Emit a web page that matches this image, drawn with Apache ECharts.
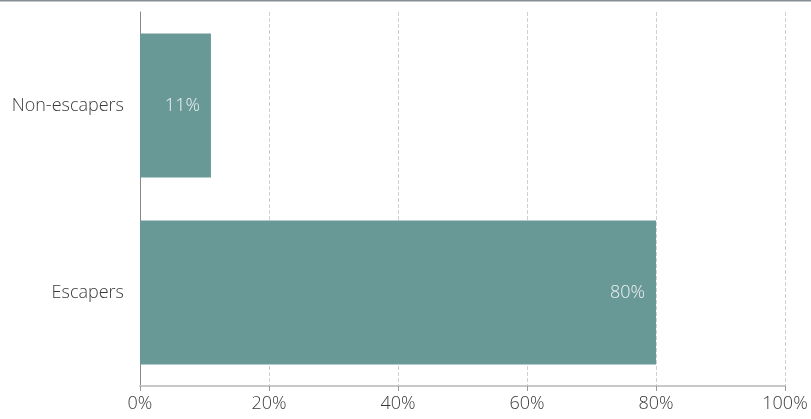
<!DOCTYPE html>
<html><head><meta charset="utf-8">
<script src="https://cdn.jsdelivr.net/npm/echarts@6/dist/echarts.min.js"></script>
<style>html,body{margin:0;padding:0;background:#fff}#c{width:811px;height:419px}</style>
</head><body><div id="c"></div>
<script>
var categories = ['Escapers', 'Non-escapers'];
var values = [80, 11];
var xTicks = [0, 20, 40, 60, 80, 100];

var chart = echarts.init(document.getElementById('c'));
chart.setOption({
  animation: false,
  textStyle: {fontFamily: 'Open Sans', fontWeight: 300},
  graphic: [{type: 'line', shape: {x1: 0, y1: 0.5, x2: 811, y2: 0.5}, style: {stroke: '#8a8f94', lineWidth: 2}}],
  grid: {left: 140, right: 26, top: 12, bottom: 33},
  xAxis: {
    type: 'value', min: xTicks[0], max: xTicks[xTicks.length - 1], interval: 20,
    axisLabel: {formatter: '{value}%', color: '#3a3a3a', fontSize: 18, fontWeight: 300, margin: 9},
    axisLine: {show: true, lineStyle: {color: '#c8c8c8', width: 2}},
    axisTick: {show: true, length: 5, lineStyle: {color: '#999'}},
    splitLine: {show: true, lineStyle: {type: 'dashed', color: '#d0d0d0'}}
  },
  yAxis: {
    type: 'category', data: categories,
    axisLabel: {color: '#3a3a3a', fontSize: 18, fontWeight: 300, margin: 16},
    axisLine: {show: true, lineStyle: {color: '#888'}},
    axisTick: {show: false}
  },
  series: [{
    type: 'bar', data: values, barWidth: '77%',
    itemStyle: {color: '#699997'},
    label: {show: true, position: 'insideRight', formatter: '{c}%', color: '#eef2f2', fontSize: 18, fontWeight: 300, distance: 11}
  }]
});
</script></body></html>
